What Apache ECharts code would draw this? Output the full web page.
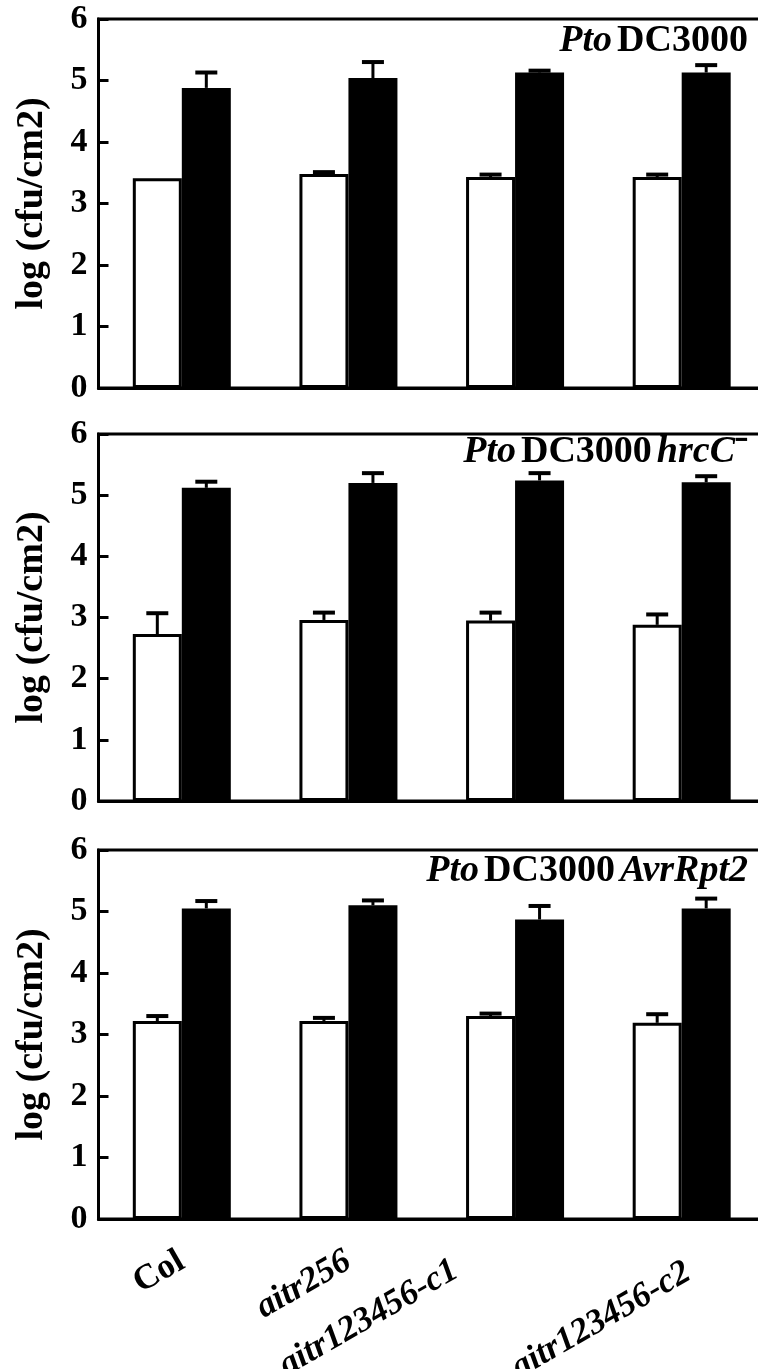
<!DOCTYPE html>
<html>
<head>
<meta charset="utf-8">
<script src="https://cdn.jsdelivr.net/npm/echarts@6/dist/echarts.min.js"></script>
<style>
  html, body { margin: 0; padding: 0; background: #fff; }
  #main { width: 758px; height: 1369px; }
</style>
</head>
<body>
<div id="main"></div>
<script>
// genotypes (x categories)
var grupos = ['Col', 'aitr256', 'aitr123456-c1', 'aitr123456-c2'];
var ticksY = [0, 1, 2, 3, 4, 5, 6];

// panel 1: Pto DC3000
var p1Blanco = [3.41, 3.48, 3.43, 3.43];
var p1BlancoErr = [0, 0.03, 0.04, 0.04];
var p1Negro = [4.88, 5.04, 5.13, 5.13];
var p1NegroErr = [0.25, 0.26, 0.03, 0.12];

// panel 2: Pto DC3000 hrcC-
var p2Blanco = [2.73, 2.96, 2.95, 2.88];
var p2BlancoErr = [0.34, 0.12, 0.13, 0.17];
var p2Negro = [5.12, 5.20, 5.24, 5.21];
var p2NegroErr = [0.10, 0.16, 0.12, 0.10];

// panel 3: Pto DC3000 AvrRpt2
var p3Blanco = [3.22, 3.22, 3.30, 3.19];
var p3BlancoErr = [0.08, 0.05, 0.04, 0.14];
var p3Negro = [5.05, 5.10, 4.87, 5.05];
var p3NegroErr = [0.12, 0.08, 0.22, 0.16];

var fuente = 'Liberation Serif, Times New Roman, serif';
var anchoBarra = 49;

// the labels in the figure were placed by hand, nudge them a bit
var ajusteEtiqueta = {
  'Col': [0, 0, 0, 0],
  'aitr256': [0, 0, 0, 0],
  'aitr123456-c1': [0, 56, 44, 0],
  'aitr123456-c2': [26, 0, 0, 0]
};

var myChart = echarts.init(document.getElementById('main'));

var paneles = [
  { top: 19, height: 369, blanco: p1Blanco, blancoErr: p1BlancoErr, negro: p1Negro, negroErr: p1NegroErr,
    titulo: '{i|Pto} {b|DC3000}', tituloTop: 22 },
  { top: 434, height: 367, blanco: p2Blanco, blancoErr: p2BlancoErr, negro: p2Negro, negroErr: p2NegroErr,
    titulo: '{i|Pto} {b|DC3000} {i|hrcC}{s|⁻}', tituloTop: 433 },
  { top: 850, height: 369, blanco: p3Blanco, blancoErr: p3BlancoErr, negro: p3Negro, negroErr: p3NegroErr,
    titulo: '{i|Pto} {b|DC3000} {i|AvrRpt2}', tituloTop: 852 }
];

// error bars drawn above the bars (only the upper half)
function barraError(offset) {
  return function (params, api) {
    var err = api.value(2);
    if (!err) return null;
    var x = api.coord([api.value(0), 0])[0] + offset;
    var y0 = api.coord([api.value(0), api.value(1)])[1];
    var y1 = api.coord([api.value(0), api.value(1) + err])[1];
    return {
      type: 'group',
      children: [
        { type: 'line', shape: { x1: x, y1: y0, x2: x, y2: y1 }, style: { stroke: '#000', lineWidth: 3 } },
        { type: 'line', shape: { x1: x - 11, y1: y1, x2: x + 11, y2: y1 }, style: { stroke: '#000', lineWidth: 4 } }
      ]
    };
  };
}

var grids = [], xAxes = [], yAxes = [], series = [], titulos = [];

paneles.forEach(function (p, k) {
  grids.push({
    left: 98.5, right: -7, top: p.top, height: p.height,
    containLabel: false, outerBoundsMode: 'none',
    show: true, borderColor: '#000', borderWidth: 3, backgroundColor: 'transparent'
  });
  var ultimo = k === paneles.length - 1;
  xAxes.push({
    type: 'category', gridIndex: k,
    data: grupos.map(function (g) {
      return { value: g, textStyle: { padding: ajusteEtiqueta[g] } };
    }),
    axisLine: { lineStyle: { color: '#000', width: 3 } },
    axisTick: { inside: true, length: 8, lineStyle: { color: '#000', width: 3 } },
    axisLabel: {
      show: ultimo, rotate: 30, margin: 40, interval: 0,
      formatter: function (v) { return v === 'Col' ? '{n|' + v + '}' : '{i|' + v + '}'; },
      rich: {
        n: { fontFamily: fuente, fontWeight: 'bold', fontSize: 35, color: '#000' },
        i: { fontFamily: fuente, fontWeight: 'bold', fontStyle: 'italic', fontSize: 35, color: '#000' }
      }
    }
  });
  yAxes.push({
    type: 'value', gridIndex: k, min: ticksY[0], max: ticksY[ticksY.length - 1], interval: 1,
    name: 'log (cfu/cm2)', nameLocation: 'middle', nameGap: 47, nameRotate: 90,
    nameTextStyle: { fontFamily: fuente, fontWeight: 'bold', fontSize: 38, color: '#000' },
    axisLine: { show: true, lineStyle: { color: '#000', width: 3 } },
    axisTick: { show: true, inside: true, length: 10, lineStyle: { color: '#000', width: 3 } },
    splitLine: { show: false },
    axisLabel: { margin: 11, fontFamily: fuente, fontWeight: 'bold', fontSize: 34, color: '#000', padding: [6, 0, 0, 0] }
  });

  series.push({
    type: 'bar', xAxisIndex: k, yAxisIndex: k, data: p.blanco,
    barWidth: anchoBarra, barGap: '0%',
    itemStyle: { color: '#fff', borderColor: '#000', borderWidth: 3 }
  });
  series.push({
    type: 'bar', xAxisIndex: k, yAxisIndex: k, data: p.negro,
    barWidth: anchoBarra, barGap: '0%',
    itemStyle: { color: '#000' }
  });
  series.push({
    type: 'custom', xAxisIndex: k, yAxisIndex: k, z: 5,
    renderItem: barraError(-anchoBarra / 2),
    data: p.blanco.map(function (v, i) { return [i, v, p.blancoErr[i]]; })
  });
  series.push({
    type: 'custom', xAxisIndex: k, yAxisIndex: k, z: 5,
    renderItem: barraError(anchoBarra / 2),
    data: p.negro.map(function (v, i) { return [i, v, p.negroErr[i]]; })
  });

  titulos.push({
    text: p.titulo, right: 10, top: p.tituloTop, padding: 0,
    textStyle: {
      rich: {
        i: { fontFamily: fuente, fontWeight: 'bold', fontStyle: 'italic', fontSize: 38, color: '#000' },
        b: { fontFamily: fuente, fontWeight: 'bold', fontSize: 38, color: '#000' },
        s: { fontFamily: fuente, fontWeight: 'bold', fontSize: 38, color: '#000' }
      }
    }
  });
});

var option = {
  animation: false,
  backgroundColor: '#fff',
  title: titulos,
  grid: grids,
  xAxis: xAxes,
  yAxis: yAxes,
  series: series
};

myChart.setOption(option);
</script>
</body>
</html>
